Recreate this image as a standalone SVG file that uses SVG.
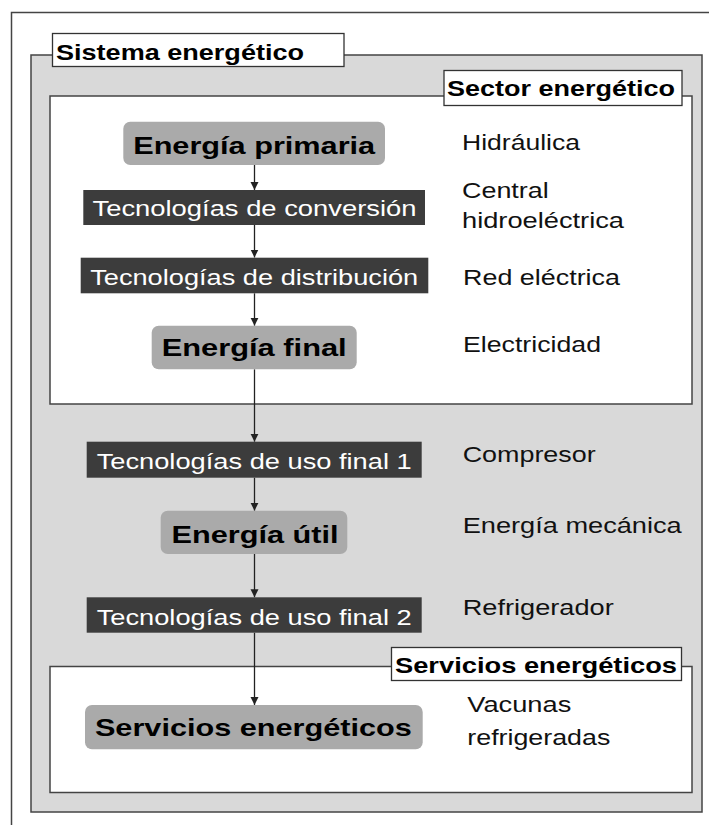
<svg xmlns="http://www.w3.org/2000/svg" width="709" height="825" viewBox="0 0 709 825">
<defs>
<marker id="ah" viewBox="0 0 10 10" refX="10" refY="5" markerWidth="8" markerHeight="9" markerUnits="userSpaceOnUse" orient="auto">
<path d="M0,0 L10,5 L0,10 Z" fill="#222"/>
</marker>
<style>
.frame{fill:none;stroke:#444;stroke-width:1.5}
.gray{fill:#d9d9d9;stroke:#444;stroke-width:1.5}
.white{fill:#fff;stroke:#444;stroke-width:1.5}
.lbl{fill:#fff;stroke:#333;stroke-width:1.3}
.dark{fill:#3c3c3c}
.light{fill:#aaaaaa}
.t{font-family:"Liberation Sans",Arial,sans-serif;font-size:22px;fill:#111}
.tb{font-family:"Liberation Sans",Arial,sans-serif;font-size:22px;font-weight:bold;fill:#000}
.tn{font-family:"Liberation Sans",Arial,sans-serif;font-size:24px;font-weight:bold;fill:#000;text-anchor:middle}
.tw{font-family:"Liberation Sans",Arial,sans-serif;font-size:22px;fill:#fff;text-anchor:middle}
.conn{stroke:#222;stroke-width:1.3;fill:none;marker-end:url(#ah)}
</style>
</defs>
<rect width="709" height="825" fill="#fff"/>
<rect class="frame" x="11.5" y="12.5" width="720" height="830"/>
<g id="sistema">
<rect class="gray" x="31" y="55" width="671" height="757"/>
<rect class="lbl" x="52.5" y="33.5" width="291.5" height="33"/>
<text class="tb" x="56" y="59.5" textLength="248" lengthAdjust="spacingAndGlyphs">Sistema energético</text>
</g>
<g id="sector">
<rect class="white" x="50" y="96" width="642" height="308"/>
<rect class="lbl" x="444" y="70.5" width="238" height="35"/>
<text class="tb" x="447" y="96" textLength="228" lengthAdjust="spacingAndGlyphs">Sector energético</text>
</g>
<g id="servicios-box">
<rect class="white" x="50" y="666.5" width="642" height="126"/>
<rect class="lbl" x="391.5" y="647.5" width="290" height="33"/>
<text class="tb" x="395" y="672.7" textLength="282" lengthAdjust="spacingAndGlyphs">Servicios energéticos</text>
</g>
<g id="connectors">
<line class="conn" x1="254.5" y1="165" x2="254.5" y2="190"/>
<line class="conn" x1="254.5" y1="225" x2="254.5" y2="257.5"/>
<line class="conn" x1="254.5" y1="293.3" x2="254.5" y2="325.7"/>
<line class="conn" x1="254.5" y1="369.3" x2="254.5" y2="441.7"/>
<line class="conn" x1="254.5" y1="477.7" x2="254.5" y2="510.7"/>
<line class="conn" x1="254.5" y1="554" x2="254.5" y2="597.3"/>
<line class="conn" x1="254.5" y1="632.7" x2="254.5" y2="705"/>
</g>
<g id="energia-primaria">
<rect class="light" x="123.3" y="121.7" width="261.7" height="43.3" rx="7"/>
<text class="tn" x="254.2" y="154" textLength="242" lengthAdjust="spacingAndGlyphs">Energía primaria</text>
</g>
<g id="tec-conversion">
<rect class="dark" x="83.3" y="190" width="341.7" height="35"/>
<text class="tw" x="254.5" y="216" textLength="324" lengthAdjust="spacingAndGlyphs">Tecnologías de conversión</text>
</g>
<g id="tec-distribucion">
<rect class="dark" x="80.7" y="257.7" width="347.6" height="35.6"/>
<text class="tw" x="254.2" y="285" textLength="328" lengthAdjust="spacingAndGlyphs">Tecnologías de distribución</text>
</g>
<g id="energia-final">
<rect class="light" x="151.7" y="325.7" width="205" height="43.6" rx="7"/>
<text class="tn" x="254.2" y="356" textLength="185" lengthAdjust="spacingAndGlyphs">Energía final</text>
</g>
<g id="tec-uso-final-1">
<rect class="dark" x="86.7" y="441.7" width="335" height="36"/>
<text class="tw" x="254.2" y="469.3" textLength="315" lengthAdjust="spacingAndGlyphs">Tecnologías de uso final 1</text>
</g>
<g id="energia-util">
<rect class="light" x="160.7" y="510.7" width="186.6" height="43.3" rx="7"/>
<text class="tn" x="255" y="542.7" textLength="167" lengthAdjust="spacingAndGlyphs">Energía útil</text>
</g>
<g id="tec-uso-final-2">
<rect class="dark" x="86.7" y="597.3" width="335" height="35.4"/>
<text class="tw" x="254.2" y="625" textLength="315" lengthAdjust="spacingAndGlyphs">Tecnologías de uso final 2</text>
</g>
<g id="servicios-energeticos">
<rect class="light" x="85" y="705" width="337.7" height="44.3" rx="7"/>
<text class="tn" x="253.4" y="736" textLength="317" lengthAdjust="spacingAndGlyphs">Servicios energéticos</text>
</g>
<g id="ejemplos">
<text class="t" x="462" y="150" textLength="118" lengthAdjust="spacingAndGlyphs">Hidráulica</text>
<text class="t" x="462" y="198.3" textLength="86.7" lengthAdjust="spacingAndGlyphs">Central</text>
<text class="t" x="462" y="228.3" textLength="162" lengthAdjust="spacingAndGlyphs">hidroeléctrica</text>
<text class="t" x="463" y="285" textLength="157" lengthAdjust="spacingAndGlyphs">Red eléctrica</text>
<text class="t" x="463" y="351.7" textLength="138" lengthAdjust="spacingAndGlyphs">Electricidad</text>
<text class="t" x="462.7" y="461.7" textLength="133" lengthAdjust="spacingAndGlyphs">Compresor</text>
<text class="t" x="462.7" y="533.3" textLength="219" lengthAdjust="spacingAndGlyphs">Energía mecánica</text>
<text class="t" x="462.7" y="615" textLength="151" lengthAdjust="spacingAndGlyphs">Refrigerador</text>
<text class="t" x="467.3" y="711.7" textLength="104" lengthAdjust="spacingAndGlyphs">Vacunas</text>
<text class="t" x="467.3" y="745" textLength="143" lengthAdjust="spacingAndGlyphs">refrigeradas</text>
</g>
</svg>
